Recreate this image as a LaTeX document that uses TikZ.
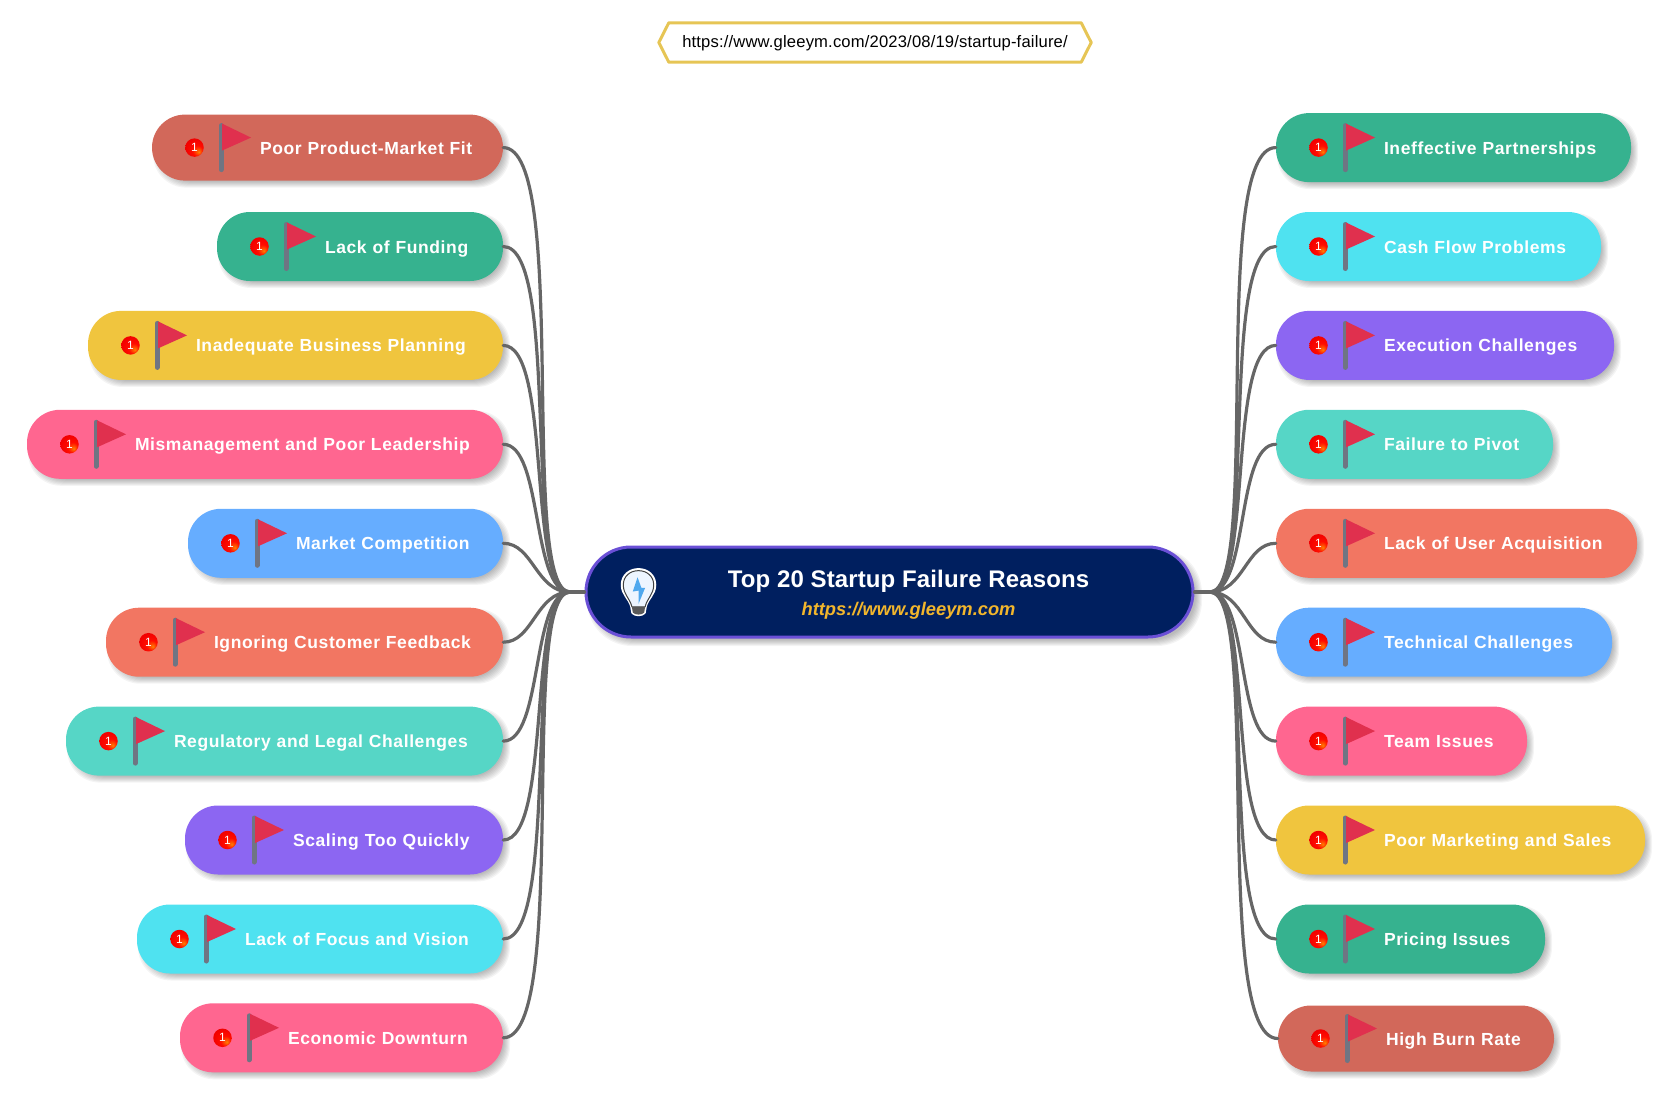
\documentclass[tikz,border=0pt]{standalone}
\usepackage{fontspec}
\setmainfont{Liberation Sans}
\newfontfamily\lab[LetterSpace=3.5]{Liberation Sans}
\newfontfamily\ttl[LetterSpace=0.5]{Liberation Sans}
\newfontfamily\urlf[LetterSpace=1]{Liberation Sans}
\usetikzlibrary{calc}
\definecolor{cTerra}{HTML}{D2685A}
\definecolor{cGreen}{HTML}{36B28F}
\definecolor{cYell}{HTML}{F0C53E}
\definecolor{cPink}{HTML}{FF6690}
\definecolor{cBlue}{HTML}{66ADFF}
\definecolor{cCoral}{HTML}{F27662}
\definecolor{cTeal}{HTML}{56D6C6}
\definecolor{cPurp}{HTML}{8C66F2}
\definecolor{cCyan}{HTML}{4FE2F0}
\definecolor{cNavy}{HTML}{001F5F}
\definecolor{cEdge}{HTML}{6A4FD6}
\definecolor{cLine}{HTML}{666666}
\definecolor{cPole}{HTML}{6F7583}
\definecolor{cFlag}{HTML}{E0304E}
\definecolor{cGold}{HTML}{E6C555}
\definecolor{cSub}{HTML}{F2B62C}
\definecolor{cBolt}{HTML}{4FA8EE}
\pgfdeclareradialshading{badgeball}{\pgfpoint{12bp}{-12bp}}{color(0bp)=(orange);color(14bp)=(red!90!orange);color(30bp)=(red!95!black);color(50bp)=(red!95!black)}
\tikzset{
  x=1pt,y=-1pt,
  pillbox/.style={rectangle,rounded corners=33pt,inner xsep=0pt,inner ysep=0pt,align=left,text=white,text height=15pt,text depth=2pt,font=\fontsize{17.5}{21}\lab\bfseries},
  link/.style={draw=cLine,line width=3.2pt,line cap=round},
  badge/.style={circle,shading=badgeball,minimum size=18.5pt,inner sep=0pt,text=white,font=\fontsize{12}{12}\selectfont},
  softshadow/.style={black,opacity=0.045},
}
\newcommand{\softbox}[6]{% x1 x2 yc h r offset
  \foreach \g in {0,1,...,6}{
    \pgfmathsetmacro\gx{#6+3-\g}
    \fill[softshadow,rounded corners=#5pt] ({#1+#6-3+\g},{#3-#4/2+#6-3+\g}) rectangle ({#2+\gx},{#3+#4/2+\gx});
  }
}
\newcommand{\pill}[7][69]{% [height] name x1 x2 yc colour text
  \softbox{#3}{#4}{#5}{#1}{33}{4}
  \pgfmathsetmacro\pw{#4-#3}
  \pgfmathsetmacro\pc{(#4+#3)/2}
  \node[pillbox,fill=#6,minimum width=\pw pt,minimum height=#1 pt,text width=\pw pt] (#2) at (\pc,#5) {\hspace*{108pt}#7};
  \begin{scope}[shift={(#3,#5)}]
    \node[badge] (#2badge) at (42.5,0) {1};
    \draw[cPole,line width=5pt,line cap=round] (69,-22) -- (69,22);
    \fill[cFlag] (70,-24) -- (99,-10) -- (70,3) -- cycle;
  \end{scope}
}
\begin{document}
\begin{tikzpicture}
\useasboundingbox (0,0) rectangle (1677,1105);
% URL hexagon
\node[inner sep=0pt,minimum width=432pt,minimum height=39pt,text height=12pt,text depth=1.5pt,font=\fontsize{16.6}{19}\urlf,text=black] (url) at (875,42.5) {https://www.gleeym.com/2023/08/19/startup-failure/};
\draw[cGold,line width=3pt,line join=round] (url.west) -- ([xshift=10pt]url.north west) -- ([xshift=-10pt]url.north east) -- (url.east) -- ([xshift=-10pt]url.south east) -- ([xshift=10pt]url.south west) -- cycle;
% left
\pill[66]{la}{152}{503}{147.6}{cTerra}{Poor Product-Market Fit}
\pill{lb}{217}{503}{246.5}{cGreen}{Lack of Funding}
\pill{lc}{88}{503}{345.4}{cYell}{Inadequate Business Planning}
\pill{ld}{27}{503}{444.3}{cPink}{Mismanagement and Poor Leadership}
\pill{le}{188}{503}{543.3}{cBlue}{Market Competition}
\pill{lf}{106}{503}{642.2}{cCoral}{Ignoring Customer Feedback}
\pill{lg}{66}{503}{741.1}{cTeal}{Regulatory and Legal Challenges}
\pill{lh}{185}{503}{840}{cPurp}{Scaling Too Quickly}
\pill{li}{137}{503}{939}{cCyan}{Lack of Focus and Vision}
\pill{lj}{180}{503}{1037.8}{cPink}{Economic Downturn}
% right
\pill{ra}{1276}{1631}{147.6}{cGreen}{Ineffective Partnerships}
\pill{rb}{1276}{1601}{246.5}{cCyan}{Cash Flow Problems}
\pill{rc}{1276}{1614}{345.4}{cPurp}{Execution Challenges}
\pill{rd}{1276}{1553}{444.3}{cTeal}{Failure to Pivot}
\pill{re}{1276}{1637}{543.3}{cCoral}{Lack of User Acquisition}
\pill{rf}{1276}{1612}{642.2}{cBlue}{Technical Challenges}
\pill{rg}{1276}{1527}{741.1}{cPink}{Team Issues}
\pill{rh}{1276}{1645}{840}{cYell}{Poor Marketing and Sales}
\pill{ri}{1276}{1545}{939}{cGreen}{Pricing Issues}
\pill[66]{rj}{1278}{1554}{1038.5}{cTerra}{High Burn Rate}
% centre
\softbox{585}{1194}{592}{92}{45}{5}
\node[rectangle,rounded corners=45pt,fill=cNavy,draw=cEdge,line width=3pt,minimum width=607pt,minimum height=90pt,inner xsep=0pt,inner ysep=0pt,text width=607pt,align=center,text=white] (root) at (889.5,592)
  {\rule{0pt}{23pt}\hspace*{38pt}{\fontsize{24}{26}\ttl\bfseries\spaceskip=6.8pt Top 20 Startup Failure Reasons}\\[9pt]
   \hspace*{38pt}{\fontsize{18.3}{20}\selectfont\bfseries\itshape\color{cSub}https://www.gleeym.com}};
% bulb
\begin{scope}[shift={(638.5,592.5)},scale=0.95]
  \path[fill=cNavy,draw=white,line width=3.2pt,line join=round]
    (-7,15) .. controls (-9,6) and (-17,2) .. (-17,-8) .. controls (-17,-18) and (-9,-24) .. (0,-24) .. controls (9,-24) and (17,-18) .. (17,-8) .. controls (17,2) and (9,6) .. (7,15) -- (6,21) .. controls (4,24) and (-4,24) .. (-6,21) -- cycle;
  \path[fill=white!88!cBlue,draw=black!75,line width=1pt,line join=round]
    (-7,15) .. controls (-9,6) and (-16,2) .. (-16,-8) .. controls (-16,-17) and (-9,-23) .. (0,-23) .. controls (9,-23) and (16,-17) .. (16,-8) .. controls (16,2) and (9,6) .. (7,15) -- cycle;
  \fill[black!65] (-7,15) -- (7,15) -- (6,21) .. controls (4,24) and (-4,24) .. (-6,21) -- cycle;
  \fill[cBolt] (-1,-16) -- (-6,-1) -- (0,-2) -- (0,12) -- (7,-5) -- (3,-5) -- cycle;
\end{scope}
% connectors
\coordinate (jl) at (570,592);
\coordinate (jr) at (1210,592);
\draw[link] (root.west) -- (jl);
\draw[link] (root.east) -- (jr);
\foreach \n/\c/\k in {la/67/518,lb/58/522,lc/49/527,ld/40/531,le/30/536,lf/30/536,lg/40/531,lh/49/527,li/58/522,lj/67/518}{
  \draw[link] (\n.east) .. controls ($(\n.east)+(\c,0)$) and (\k,592) .. (jl);
}
\foreach \n/\c/\k in {ra/67/1262,rb/58/1258,rc/49/1253,rd/40/1249,re/30/1244,rf/30/1244,rg/40/1249,rh/49/1253,ri/58/1258,rj/67/1262}{
  \draw[link] (\n.west) .. controls ($(\n.west)+(-\c,0)$) and (\k,592) .. (jr);
}
\end{tikzpicture}
\end{document}
